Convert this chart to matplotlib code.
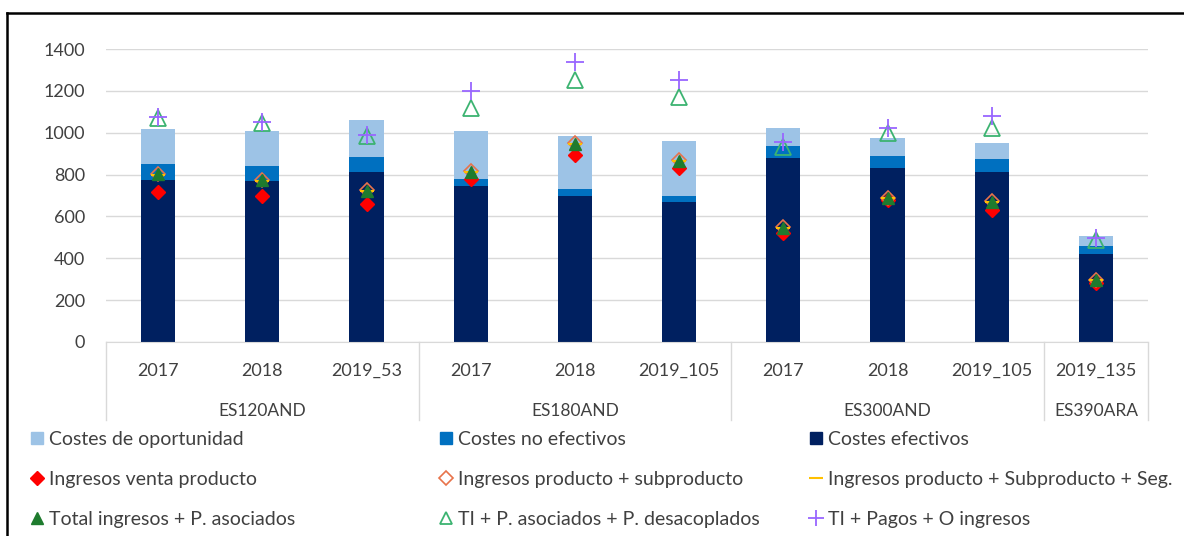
import numpy as np
import matplotlib
matplotlib.use("Agg")
import matplotlib.pyplot as plt
from matplotlib.lines import Line2D
import matplotlib.transforms as mtransforms

plt.rcParams['font.family'] = ['Lato', 'DejaVu Sans']

# data
years = ['2017', '2018', '2019_53', '2017', '2018', '2019_105', '2017', '2018', '2019_105', '2019_135']
groups = ['ES120AND', 'ES180AND', 'ES300AND', 'ES390ARA']
group_sizes = [3, 3, 3, 1]

costes_efectivos = [775, 770, 812, 745, 698, 669, 879, 831, 812, 420]
costes_no_efectivos = [75, 71, 72, 34, 33, 29, 57, 58, 62, 39]
costes_oportunidad = [168, 167, 177, 229, 253, 262, 86, 86, 77, 47]

ingresos_venta = [717, 698, 659, 779, 893, 831, 520, 678, 631, 282]
ingresos_prod_sub = [805, 775, 726, 815, 950, 868, 548, 690, 672, 298]
ingresos_prod_sub_seg = [800, 771, 721, 810, 946, 864, 545, 688, 668, 295]
total_ingresos_asoc = [803, 772, 722, 812, 948, 866, 546, 689, 670, 296]
ti_asoc_desacop = [1070, 1046, 982, 1118, 1252, 1171, 930, 998, 1022, 487]
ti_pagos_otros = [1075, 1050, 990, 1199, 1338, 1252, 956, 1022, 1080, 497]

legend_labels = [
    ['Costes de oportunidad', 'Ingresos venta producto', 'Total ingresos + P. asociados'],
    ['Costes no efectivos', 'Ingresos producto + subproducto', 'TI + P. asociados + P. desacoplados'],
    ['Costes efectivos', 'Ingresos producto + Subproducto + Seg.', 'TI + Pagos + O ingresos'],
]

C_OPORT = '#9DC3E6'
C_NOEF = '#0070C0'
C_EF = '#002060'
C_TEXT = '#404040'

# marker styles per series
S_VENTA = dict(marker='D', color='#FF0000', ms=7)
S_SUB = dict(marker='D', mfc='none', mec='#E8734A', mew=1.2, ms=7)
S_SEG = dict(marker='_', color='#FFC000', ms=10, mew=1.5)
S_TOT = dict(marker='^', color='#1E7B2E', ms=8)
S_DES = dict(marker='^', mfc='none', mec='#3CB371', mew=1.3, ms=11)
S_PAG = dict(marker='+', color='#9966FF', ms=13, mew=1.3)

W, H = 1184, 536
fig = plt.figure(figsize=(W / 100, H / 100), dpi=100)
ax = fig.add_axes([106 / W, 1 - 342 / H, (1148 - 106) / W, (342 - 49) / H])

x = np.arange(len(years))
ef = np.array(costes_efectivos)
noef = np.array(costes_no_efectivos)
op = np.array(costes_oportunidad)
bw = 0.33
ax.bar(x, ef, bw, color=C_EF, zorder=2)
ax.bar(x, noef, bw, bottom=ef, color=C_NOEF, zorder=2)
ax.bar(x, op, bw, bottom=ef + noef, color=C_OPORT, zorder=2)

ax.plot(x, ingresos_venta, ls='none', zorder=3, **S_VENTA)
ax.plot(x, ingresos_prod_sub, ls='none', zorder=3, **S_SUB)
ax.plot(x, ingresos_prod_sub_seg, ls='none', zorder=3, **S_SEG)
ax.plot(x, total_ingresos_asoc, ls='none', zorder=4, **S_TOT)
ax.plot(x, ti_asoc_desacop, ls='none', zorder=4, **S_DES)
ax.plot(x, ti_pagos_otros, ls='none', zorder=5, **S_PAG)

ax.set_xlim(-0.5, len(years) - 0.5)
ax.set_ylim(0, 1400)
ax.set_yticks(range(0, 1401, 200))
ax.yaxis.grid(True, color='#D9D9D9', lw=1, zorder=0)
ax.set_axisbelow(True)
for s in ['top', 'right', 'left']:
    ax.spines[s].set_visible(False)
ax.spines['bottom'].set_color('#D9D9D9')
ax.tick_params(axis='y', length=0, labelsize=13, labelcolor=C_TEXT, pad=15)
ax.set_xticks(x)
ax.set_xticklabels(years)
ax.tick_params(axis='x', length=0, labelsize=13, labelcolor=C_TEXT, pad=15)

# group labels and separators
trans = mtransforms.blended_transform_factory(ax.transData, ax.transAxes)
ax_h = 342 - 49
sep_bottom = -78 / ax_h
start = 0
bounds = [-0.5]
for g, n in zip(groups, group_sizes):
    center = start + (n - 1) / 2
    ax.text(center, -69 / ax_h, g, transform=trans, ha='center', va='center',
            fontsize=12.5, color=C_TEXT)
    start += n
    bounds.append(start - 0.5)
for b in bounds:
    ax.plot([b, b], [0, sep_bottom], transform=trans, color='#D9D9D9', lw=1, clip_on=False)

# legend, drawn entry by entry on a 3x3 grid
legend_styles = [
    [dict(marker='s', color=C_OPORT, ms=8), S_VENTA, S_TOT],
    [dict(marker='s', color=C_NOEF, ms=8), S_SUB, dict(S_DES, ms=9)],
    [dict(marker='s', color=C_EF, ms=8), S_SEG, dict(S_PAG, ms=11)],
]
col_marker_x = [37, 446, 816]
row_y = [438, 478, 518]
for cx, styles, labels in zip(col_marker_x, legend_styles, legend_labels):
    for ry, st, lab in zip(row_y, styles, labels):
        fig.add_artist(Line2D([cx / W], [1 - ry / H], ls='none', **st))
        fig.text((cx + 12) / W, 1 - ry / H, lab, ha='left', va='center_baseline',
                 fontsize=14, color=C_TEXT)

# outer frame
fig.add_artist(Line2D([7 / W, 1], [1 - 13 / H, 1 - 13 / H], color='black', lw=1.8))
fig.add_artist(Line2D([7 / W, 7 / W], [0, 1 - 13 / H], color='black', lw=1.8))

fig.savefig('out.png', dpi=100)
